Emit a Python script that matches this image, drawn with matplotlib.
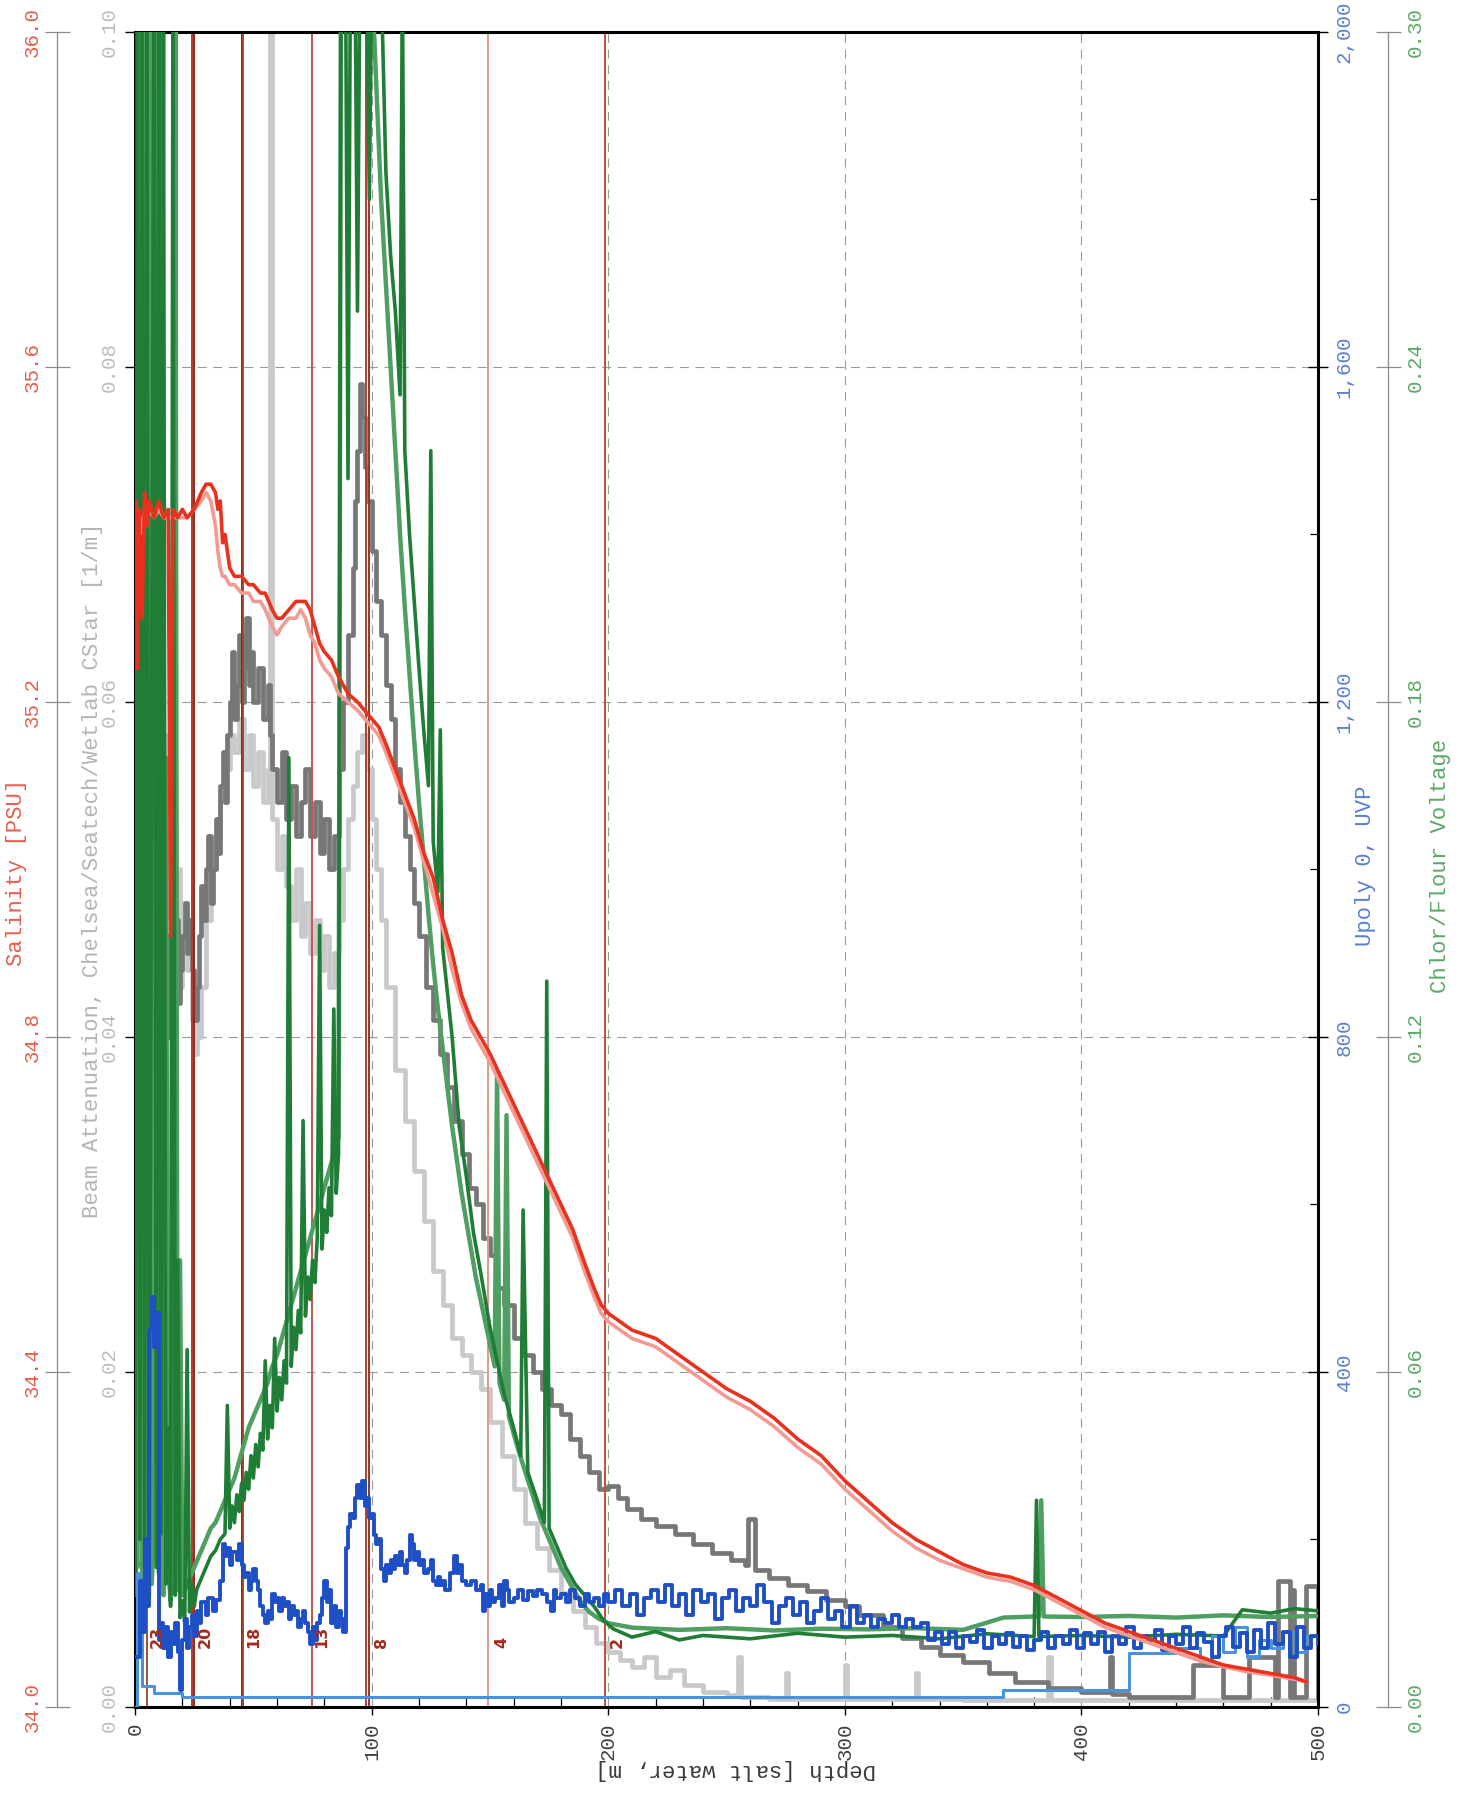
import matplotlib
matplotlib.use("Agg")
import matplotlib.pyplot as plt
from matplotlib.ticker import MultipleLocator

plt.rcParams['font.family'] = ['Liberation Mono', 'DejaVu Sans Mono']

# ---- salinity (two sensors) vs depth ----
sal_depth = [0, 0.5, 1, 1.5, 2, 3, 4, 5, 6, 8,
             10, 12, 14, 15, 16, 18, 20, 22, 25, 28,
             30, 32, 34, 35, 36, 37, 38, 40, 42, 45,
             48, 50, 53, 55, 58, 60, 62, 65, 68, 70,
             72, 74, 76, 78, 80, 83, 86, 90, 94, 97,
             100, 103, 106, 110, 114, 118, 122, 126, 130, 134,
             138, 142, 146, 150, 155, 160, 165, 170, 175, 180,
             185, 190, 194, 197, 200, 205, 210, 220, 230, 240,
             250, 260, 270, 280, 290, 300, 310, 320, 330, 340,
             350, 360, 370, 380, 390, 400, 410, 420, 430, 440,
             450, 460, 470, 480, 490, 495]
sal_main = [35.40, 35.44, 35.24, 35.43, 35.38, 35.30, 35.45, 35.41, 35.44, 35.42,
            35.44, 35.42, 35.43, 34.92, 35.43, 35.42, 35.43, 35.42, 35.43, 35.45,
            35.46, 35.46, 35.45, 35.43, 35.44, 35.39, 35.40, 35.36, 35.35, 35.35,
            35.34, 35.34, 35.33, 35.33, 35.31, 35.30, 35.30, 35.31, 35.32, 35.32,
            35.32, 35.31, 35.29, 35.27, 35.26, 35.25, 35.23, 35.21, 35.20, 35.19,
            35.18, 35.17, 35.15, 35.12, 35.09, 35.06, 35.02, 34.99, 34.94, 34.90,
            34.85, 34.82, 34.80, 34.78, 34.75, 34.72, 34.69, 34.66, 34.63, 34.60,
            34.57, 34.53, 34.50, 34.48, 34.47, 34.46, 34.45, 34.44, 34.42, 34.40,
            34.38, 34.365, 34.345, 34.32, 34.30, 34.27, 34.245, 34.22, 34.20, 34.185,
            34.17, 34.16, 34.155, 34.145, 34.13, 34.115, 34.10, 34.09, 34.08, 34.07,
            34.06, 34.05, 34.045, 34.04, 34.035, 34.03]
sal_second = [35.42, 35.43, 35.41, 35.42, 35.40, 35.41, 35.43, 35.42, 35.43, 35.42,
              35.43, 35.42, 35.42, 35.42, 35.42, 35.42, 35.42, 35.42, 35.43, 35.44,
              35.45, 35.44, 35.41, 35.38, 35.36, 35.35, 35.35, 35.34, 35.34, 35.33,
              35.33, 35.32, 35.32, 35.31, 35.29, 35.28, 35.29, 35.30, 35.30, 35.31,
              35.30, 35.28, 35.27, 35.25, 35.24, 35.23, 35.21, 35.20, 35.19, 35.18,
              35.17, 35.16, 35.14, 35.11, 35.08, 35.05, 35.01, 34.97, 34.93, 34.88,
              34.84, 34.81, 34.79, 34.77, 34.74, 34.71, 34.68, 34.65, 34.62, 34.59,
              34.56, 34.52, 34.49, 34.47, 34.46, 34.45, 34.44, 34.43, 34.41, 34.39,
              34.37, 34.355, 34.335, 34.31, 34.29, 34.26, 34.235, 34.21, 34.19, 34.175,
              34.165, 34.155, 34.15, 34.14, 34.125, 34.11, 34.095, 34.085, 34.075, 34.065,
              34.055, 34.048, 34.042, 34.038, 34.033, 34.03]

# ---- beam attenuation (dark and light traces) ----
beam_dark_depth = [0, 1, 2, 3, 4, 5, 6, 7, 8, 9,
                   10, 11, 12, 13, 14, 15, 16, 17, 18, 19,
                   20, 21, 22, 23, 24, 25, 26, 27, 28, 29,
                   30, 31, 32, 33, 34, 35, 36, 37, 38, 39,
                   40, 41, 42, 43, 44, 45, 46, 47, 48, 49,
                   50, 52, 54, 56, 57, 58, 60, 62, 64, 66,
                   68, 70, 72, 74, 76, 78, 80, 82, 84, 86,
                   88, 90, 92, 93, 94, 95, 96, 97, 98, 100,
                   102, 104, 106, 108, 110, 112, 114, 116, 118, 120,
                   123, 126, 129, 132, 135, 138, 141, 144, 147, 150,
                   153, 156, 160, 164, 168, 172, 176, 180, 184, 188,
                   192, 196, 200, 204, 208, 214, 220, 228, 236, 244,
                   252, 258, 259, 262, 268, 276, 284, 292, 300, 306,
                   316, 324, 332, 340, 350, 361, 372, 386, 400, 412,
                   413, 420, 430, 446, 447, 460, 470, 471, 482, 483,
                   488, 489, 490, 494, 495, 500]
beam_dark = [0.11, 0.07, 0.11, 0.09, 0.11, 0.06, 0.11, 0.08, 0.047, 0.052,
             0.043, 0.049, 0.041, 0.046, 0.040, 0.048, 0.043, 0.047, 0.042, 0.044,
             0.046, 0.048, 0.045, 0.047, 0.044, 0.041, 0.043, 0.046, 0.049, 0.047,
             0.050, 0.052, 0.048, 0.050, 0.053, 0.051, 0.055, 0.057, 0.054, 0.058,
             0.060, 0.063, 0.059, 0.061, 0.064, 0.060, 0.062, 0.065, 0.061, 0.063,
             0.060, 0.062, 0.059, 0.061, 0.058, 0.056, 0.054, 0.057, 0.053, 0.055,
             0.052, 0.054, 0.056, 0.052, 0.054, 0.051, 0.053, 0.050, 0.052, 0.056,
             0.060, 0.064, 0.068, 0.072, 0.075, 0.079, 0.077, 0.074, 0.072, 0.069,
             0.066, 0.064, 0.061, 0.059, 0.056, 0.054, 0.052, 0.050, 0.048, 0.046,
             0.043, 0.041, 0.039, 0.037, 0.035, 0.033, 0.031, 0.030, 0.028, 0.027,
             0.025, 0.024, 0.022, 0.021, 0.020, 0.019, 0.018, 0.0175, 0.016, 0.015,
             0.014, 0.013, 0.0132, 0.0125, 0.0118, 0.0112, 0.0108, 0.0103, 0.0097, 0.0092,
             0.0088, 0.0085, 0.0112, 0.0082, 0.0077, 0.0073, 0.0069, 0.0064, 0.0060, 0.0055,
             0.0048, 0.0041, 0.0036, 0.0031, 0.0027, 0.0020, 0.0015, 0.0011, 0.0009, 0.0030,
             0.0008, 0.0006, 0.0006, 0.0006, 0.0025, 0.0006, 0.0006, 0.0030, 0.0006, 0.0075,
             0.0006, 0.0070, 0.0006, 0.0006, 0.0072, 0.0006]
beam_light_depth = [0, 1, 2, 3, 4, 5, 6, 7, 8, 9,
                    10, 11, 12, 13, 14, 15, 16, 17, 18, 19,
                    20, 22, 24, 25, 26, 27, 28, 30, 32, 34,
                    36, 38, 40, 42, 44, 46, 48, 50, 52, 54,
                    56, 57, 58, 60, 62, 64, 66, 68, 70, 72,
                    74, 76, 78, 80, 82, 84, 86, 88, 90, 92,
                    94, 96, 98, 100, 102, 104, 106, 110, 114, 118,
                    122, 126, 130, 134, 138, 142, 146, 150, 155, 160,
                    165, 170, 175, 180, 185, 190, 195, 200, 205, 210,
                    215, 220, 226, 232, 240, 250, 255, 256, 268, 275,
                    276, 300, 301, 330, 331, 350, 386, 387, 420, 500]
beam_light = [0.09, 0.11, 0.08, 0.11, 0.10, 0.11, 0.07, 0.11, 0.045, 0.050,
              0.042, 0.055, 0.047, 0.058, 0.050, 0.044, 0.052, 0.046, 0.050, 0.043,
              0.048, 0.044, 0.041, 0.039, 0.042, 0.040, 0.043, 0.047, 0.050, 0.052,
              0.054, 0.056, 0.058, 0.057, 0.059, 0.056, 0.058, 0.055, 0.057, 0.054,
              0.056, 0.11, 0.053, 0.050, 0.052, 0.049, 0.047, 0.050, 0.046, 0.048,
              0.045, 0.047, 0.044, 0.046, 0.043, 0.045, 0.047, 0.050, 0.053, 0.055,
              0.057, 0.058, 0.056, 0.053, 0.050, 0.047, 0.043, 0.038, 0.035, 0.032,
              0.029, 0.026, 0.024, 0.022, 0.021, 0.020, 0.019, 0.017, 0.015, 0.013,
              0.011, 0.0095, 0.0082, 0.0068, 0.0057, 0.0048, 0.0038, 0.0033, 0.0028, 0.0024,
              0.0030, 0.0018, 0.0022, 0.0013, 0.0009, 0.0007, 0.0030, 0.0006, 0.0005, 0.0020,
              0.0005, 0.0025, 0.0005, 0.0020, 0.0005, 0.0004, 0.0030, 0.0004, 0.0004, 0.0004]

# ---- chlorophyll fluorescence voltage (two traces) ----
chl_dark_depth = [0, 1, 2, 3, 4, 5, 6, 7, 8, 9,
                  10, 11, 12, 13, 14, 15, 16, 17, 18, 19,
                  20, 21, 22, 23, 24, 25, 26, 28, 30, 32,
                  34, 36, 38, 39, 40, 41, 42, 43, 44, 45,
                  46, 47, 48, 49, 50, 51, 52, 53, 54, 55,
                  56, 57, 58, 59, 60, 61, 62, 63, 64, 65,
                  66, 67, 68, 69, 70, 71, 72, 73, 74, 75,
                  76, 77, 78, 79, 80, 81, 82, 83, 84, 85,
                  86, 87, 89, 90, 91, 93, 94, 95, 98, 99,
                  100, 104, 106, 108, 110, 112, 113, 114, 116, 118,
                  120, 122, 124, 125, 126, 128, 129, 130, 132, 134,
                  137, 140, 143, 146, 150, 153, 156, 160, 163, 164,
                  166, 170, 173, 174, 175, 178, 182, 186, 190, 194,
                  198, 202, 210, 220, 230, 240, 260, 280, 300, 320,
                  340, 360, 380, 381, 382, 400, 420, 440, 460, 468,
                  480, 490, 500]
chl_dark = [0.02, 0.31, 0.03, 0.31, 0.025, 0.31, 0.02, 0.18, 0.31, 0.025,
            0.31, 0.031, 0.31, 0.022, 0.05, 0.018, 0.31, 0.02, 0.08, 0.016,
            0.019, 0.015, 0.064, 0.017, 0.022, 0.018, 0.021, 0.023, 0.025, 0.027,
            0.028, 0.030, 0.031, 0.054, 0.032, 0.036, 0.033, 0.038, 0.035, 0.040,
            0.037, 0.042, 0.039, 0.045, 0.041, 0.047, 0.043, 0.049, 0.046, 0.062,
            0.048, 0.054, 0.050, 0.066, 0.053, 0.059, 0.055, 0.062, 0.058, 0.17,
            0.061, 0.068, 0.064, 0.071, 0.067, 0.105, 0.070, 0.077, 0.073, 0.080,
            0.076, 0.084, 0.14, 0.082, 0.089, 0.085, 0.093, 0.088, 0.125, 0.092,
            0.099, 0.31, 0.31, 0.22, 0.31, 0.31, 0.25, 0.31, 0.31, 0.27,
            0.31, 0.31, 0.275, 0.26, 0.25, 0.235, 0.31, 0.225, 0.21, 0.198,
            0.186, 0.175, 0.165, 0.225, 0.155, 0.146, 0.175, 0.136, 0.128, 0.12,
            0.104, 0.095, 0.085, 0.078, 0.068, 0.062, 0.056, 0.05, 0.045, 0.089,
            0.042, 0.037, 0.033, 0.13, 0.032, 0.029, 0.025, 0.022, 0.020, 0.018,
            0.0155, 0.014, 0.0125, 0.0135, 0.012, 0.0128, 0.0122, 0.0132, 0.0125, 0.0128,
            0.0122, 0.0131, 0.0126, 0.037, 0.0126, 0.0128, 0.0125, 0.013, 0.0127, 0.0174,
            0.0168, 0.0176, 0.0172]
chl_mid_depth = [0, 1, 2, 3, 4, 5, 6, 7, 8, 9,
                 10, 11, 12, 13, 14, 15, 16, 17, 18, 19,
                 20, 22, 24, 26, 28, 30, 32, 34, 36, 38,
                 40, 42, 44, 46, 48, 50, 52, 54, 56, 58,
                 60, 62, 64, 66, 68, 70, 72, 74, 76, 78,
                 80, 82, 84, 86, 87, 100, 102, 104, 106, 108,
                 110, 112, 114, 116, 118, 120, 122, 124, 126, 128,
                 130, 132, 134, 136, 138, 140, 142, 144, 146, 148,
                 150, 152, 153, 154, 156, 157, 158, 160, 162, 165,
                 168, 171, 174, 177, 180, 184, 188, 192, 196, 200,
                 210, 230, 250, 270, 290, 310, 330, 350, 367, 380,
                 382, 383, 384, 400, 420, 440, 460, 480, 500]
chl_mid = [0.03, 0.025, 0.31, 0.02, 0.31, 0.028, 0.31, 0.022, 0.03, 0.31,
           0.024, 0.31, 0.02, 0.17, 0.025, 0.019, 0.03, 0.31, 0.021, 0.08,
           0.02, 0.022, 0.024, 0.026, 0.028, 0.030, 0.032, 0.033, 0.035, 0.037,
           0.039, 0.041, 0.044, 0.047, 0.050, 0.052, 0.054, 0.056, 0.058, 0.061,
           0.063, 0.066, 0.069, 0.072, 0.075, 0.078, 0.081, 0.084, 0.087, 0.090,
           0.093, 0.096, 0.099, 0.102, 0.31, 0.31, 0.29, 0.27, 0.255, 0.24,
           0.225, 0.21, 0.197, 0.185, 0.173, 0.162, 0.152, 0.142, 0.133, 0.125,
           0.118, 0.111, 0.104, 0.098, 0.092, 0.087, 0.082, 0.077, 0.073, 0.069,
           0.065, 0.061, 0.114, 0.058, 0.055, 0.106, 0.052, 0.049, 0.046, 0.042,
           0.038, 0.034, 0.031, 0.028, 0.025, 0.022, 0.019, 0.017, 0.0158, 0.015,
           0.0142, 0.0138, 0.0141, 0.0137, 0.014, 0.0139, 0.0141, 0.0138, 0.016, 0.0162,
           0.0162, 0.037, 0.0162, 0.0161, 0.0163, 0.016, 0.0164, 0.0161, 0.0163]

# ---- UVP particle counts (two traces) ----
uvp_depth = [1, 2, 3, 4, 5, 6, 7, 8, 9, 10,
             11, 12, 13, 14, 15, 16, 17, 18, 19, 20,
             21, 22, 23, 24, 25, 26, 27, 28, 30, 31,
             33, 34, 36, 37, 38, 39, 40, 41, 43, 44,
             45, 46, 47, 48, 49, 50, 51, 52, 53, 54,
             55, 56, 57, 58, 59, 60, 61, 62, 63, 64,
             65, 66, 67, 68, 69, 70, 71, 72, 73, 74,
             75, 76, 77, 78, 79, 80, 81, 82, 83, 84,
             85, 86, 87, 88, 89, 90, 91, 92, 93, 94,
             95, 96, 97, 98, 99, 100, 101, 102, 103, 104,
             105, 106, 107, 108, 109, 110, 111, 112, 113, 114,
             115, 116, 117, 118, 119, 120, 121, 122, 124, 125,
             126, 127, 128, 129, 130, 131, 133, 135, 136, 137,
             138, 140, 142, 144, 146, 147, 148, 149, 150, 151,
             152, 154, 155, 156, 157, 158, 160, 162, 164, 166,
             168, 170, 172, 174, 176, 177, 178, 180, 182, 184,
             186, 188, 190, 192, 194, 196, 198, 200, 203, 206,
             209, 212, 215, 218, 221, 224, 227, 230, 233, 236,
             239, 242, 245, 248, 251, 254, 257, 260, 263, 266,
             269, 272, 275, 278, 281, 284, 287, 290, 293, 296,
             299, 302, 305, 308, 311, 314, 317, 320, 323, 326,
             329, 332, 335, 338, 341, 344, 347, 350, 353, 356,
             359, 362, 365, 368, 371, 374, 377, 380, 383, 386,
             389, 392, 395, 398, 401, 404, 407, 410, 413, 416,
             419, 422, 425, 428, 431, 434, 437, 440, 443, 446,
             449, 452, 455, 458, 461, 464, 467, 470, 473, 476,
             479, 482, 485, 488, 491, 494, 497, 500]
uvp_dark = [60, 150, 90, 200, 120, 450, 490, 430, 470, 80,
            100, 70, 95, 60, 90, 75, 100, 65, 20, 80,
            105, 70, 95, 110, 85, 115, 100, 125, 110, 130,
            115, 128, 150, 195, 180, 190, 170, 185, 175, 195,
            170, 155, 160, 140, 150, 165, 150, 140, 120, 110,
            100, 115, 105, 135, 125, 130, 115, 130, 120, 125,
            105, 120, 110, 115, 95, 105, 115, 100, 90, 75,
            95, 80, 100, 110, 130, 150, 125, 140, 100, 120,
            95, 115, 105, 90, 190, 215, 230, 225, 250, 265,
            250, 270, 240, 250, 225, 230, 205, 195, 200, 165,
            150, 170, 160, 175, 165, 180, 170, 185, 170, 160,
            175, 205, 195, 175, 185, 170, 175, 160, 165, 175,
            150, 145, 155, 145, 150, 140, 160, 180, 160, 170,
            150, 145, 150, 140, 145, 115, 135, 120, 140, 125,
            130, 145, 120, 150, 140, 125, 130, 140, 128, 138,
            132, 140, 135, 125, 115, 140, 130, 135, 125, 140,
            130, 120, 135, 125, 130, 120, 135, 125, 140, 120,
            135, 110, 130, 140, 125, 145, 120, 135, 110, 140,
            125, 135, 105, 130, 140, 115, 130, 120, 145, 125,
            100, 120, 130, 110, 125, 100, 115, 130, 105, 115,
            95, 120, 100, 110, 95, 105, 100, 110, 95, 105,
            95, 100, 80, 90, 75, 90, 70, 85, 78, 92,
            70, 85, 75, 88, 72, 85, 68, 80, 90, 70,
            85, 75, 92, 70, 88, 75, 90, 65, 85, 75,
            95, 70, 85, 80, 92, 68, 85, 75, 95, 70,
            88, 78, 60, 85, 95, 72, 88, 65, 92, 70,
            100, 75, 90, 60, 95, 70, 85, 75]
uvp_light_depth = [0, 1, 2, 3, 8, 19, 20, 367, 420, 441,
                   450, 455, 460, 465, 470, 475, 480, 485, 490, 495, 500]
uvp_light = [0, 160, 90, 25, 17, 17, 12, 20, 64, 70,
             55, 85, 65, 95, 60, 80, 70, 90, 65, 85, 80]

# ---- bottle firing marks ----
bottle_depths = [1, 5, 24, 24.8, 45, 45.8, 74.6, 97.6, 98.8, 149, 198.5]
bottle_colors = ['#c8412c', '#a0522d', '#b03a2e', '#8b2e1e', '#7a2a1a', '#a04a2a',
                 '#c0584a', '#b3402e', '#8a3a24', '#e09a84', '#c0503a']
bottle_labels = ['23', '20', '18', '13', '8', '4', '2']
bottle_label_depths = [9.5, 29.5, 50, 79, 104, 155, 204]

# ---- axis ticks ----
depth_ticks = [0, 100, 200, 300, 400, 500]
beam_ticks = [0.00, 0.02, 0.04, 0.06, 0.08, 0.10]
beam_labels = ['0.00', '0.02', '0.04', '0.06', '0.08', '0.10']
sal_ticks = [34.0, 34.4, 34.8, 35.2, 35.6, 36.0]
sal_labels = ['34.0', '34.4', '34.8', '35.2', '35.6', '36.0']
uvp_ticks = [0, 400, 800, 1200, 1600, 2000]
uvp_labels = ['0', '400', '800', '1,200', '1,600', '2,000']
chl_ticks = [0.0, 0.06, 0.12, 0.18, 0.24, 0.30]
chl_labels = ['0.00', '0.06', '0.12', '0.18', '0.24', '0.30']

c_sal = '#e3604c'
c_beam = '#bdbdbd'
c_uvp = '#5a7fd4'
c_chl = '#5ca866'

fig = plt.figure(figsize=(14.65, 17.96), dpi=100)
ax = fig.add_axes([0.0922, 0.0496, 0.8075, 0.9326])
ax.set_xlim(0, 500)
ax.set_ylim(0, 0.10)
ax.set_axisbelow(True)
ax.grid(True, which='major', linestyle=(0, (8, 6)), color='#9a9a9a', linewidth=0.8)

ax.plot(beam_light_depth, beam_light, drawstyle='steps-post', color='#c9c9cb', lw=3.4)
ax.plot(beam_dark_depth, beam_dark, drawstyle='steps-post', color='#777777', lw=3.4)
for d, c in zip(bottle_depths, bottle_colors):
    ax.axvline(d, color=c, lw=1.4, zorder=2.5)

for s in ax.spines.values():
    s.set_linewidth(2.2)
    s.set_color('black')

ax.set_xticks(depth_ticks, labels=[str(t) for t in depth_ticks], rotation=90,
              ha='center', va='top', color='#404040', fontsize=15)
ax.xaxis.set_minor_locator(MultipleLocator(20))
ax.tick_params(axis='x', which='major', direction='out', length=6, width=1, pad=5)
ax.tick_params(axis='x', which='minor', direction='in', length=7, width=0.9)
ax.set_yticks(beam_ticks, labels=beam_labels, rotation=90, va='center',
              color=c_beam, fontsize=15)
ax.yaxis.set_minor_locator(MultipleLocator(0.01))
ax.tick_params(axis='y', which='major', direction='inout', length=14, width=1, pad=5)
ax.tick_params(axis='y', which='minor', direction='in', length=6, width=0.9)

# chlorophyll axis (outer right spine)
ax_c = ax.twinx()
ax_c.set_ylim(0, 0.30)
ax_c.plot(chl_mid_depth, chl_mid, color='#4f9f62', lw=3.2)
ax_c.plot(chl_dark_depth, chl_dark, color='#1f7d35', lw=2.6)
for k in ['left', 'top', 'bottom']:
    ax_c.spines[k].set_visible(False)
ax_c.spines['right'].set_position(('axes', 1.0592))
ax_c.spines['right'].set_color('#8c8c8c')
ax_c.spines['right'].set_linewidth(0.9)
ax_c.set_yticks(chl_ticks, labels=chl_labels, rotation=90, va='center',
                color=c_chl, fontsize=15)
ax_c.tick_params(axis='y', direction='inout', length=18, width=0.9,
                 color='#8c8c8c', pad=4)

# UVP axis (box right edge)
ax_u = ax.twinx()
ax_u.set_ylim(0, 2000)
ax_u.plot(uvp_light_depth, uvp_light, drawstyle='steps-post', color='#4a93da', lw=2.2)
ax_u.plot(uvp_depth, uvp_dark, drawstyle='steps-post', color='#1f4fc4', lw=2.8)
for s in ax_u.spines.values():
    s.set_visible(False)
ax_u.set_yticks(uvp_ticks, labels=uvp_labels, rotation=90, va='center',
                color=c_uvp, fontsize=15)
ax_u.yaxis.set_minor_locator(MultipleLocator(200))
ax_u.tick_params(axis='y', which='major', direction='inout', length=14, width=1, pad=5)
ax_u.tick_params(axis='y', which='minor', direction='in', length=6, width=0.9)

# salinity axis (outer left spine)
ax_s = ax.twinx()
ax_s.set_ylim(34, 36)
ax_s.plot(sal_depth, sal_second, color='#f29b93', lw=2.6)
ax_s.plot(sal_depth, sal_main, color='#e8321e', lw=2.6)
ax_s.yaxis.tick_left()
for k in ['right', 'top', 'bottom']:
    ax_s.spines[k].set_visible(False)
ax_s.spines['left'].set_visible(True)
ax_s.spines['left'].set_position(('axes', -0.0659))
ax_s.spines['left'].set_color('#8c8c8c')
ax_s.spines['left'].set_linewidth(0.9)
ax_s.set_yticks(sal_ticks, labels=sal_labels, rotation=90, va='center',
                color=c_sal, fontsize=15)
ax_s.tick_params(axis='y', direction='inout', length=18, width=0.9,
                 color='#8c8c8c', pad=2)

for t, d in zip(bottle_labels, bottle_label_depths):
    ax_s.text(d, 0.0035, t, transform=ax.transData, rotation=90, ha='center',
              va='bottom', fontsize=11.5, fontweight='bold', color='#a52a1c',
              family=['DejaVu Sans'])

fig.text(0.0116, 0.514, 'Salinity [PSU]', rotation=90, ha='center', va='center',
         fontsize=16, color=c_sal)
fig.text(0.0628, 0.5156, 'Beam Attenuation, Chelsea/Seatech/Wetlab CStar [1/m]',
         rotation=90, ha='center', va='center', fontsize=16, color='#b5b5b5')
fig.text(0.9324, 0.518, 'Upoly 0, UVP', rotation=90, ha='center', va='center',
         fontsize=16, color=c_uvp)
fig.text(0.9836, 0.518, 'Chlor/Flour Voltage', rotation=90, ha='center', va='center',
         fontsize=16, color=c_chl)
fig.text(0.5024, 0.0145, 'Depth [salt water, m]', rotation=180, ha='center',
         va='center', fontsize=16, color='#3a3a3a')

fig.savefig('out.png', dpi=100)
